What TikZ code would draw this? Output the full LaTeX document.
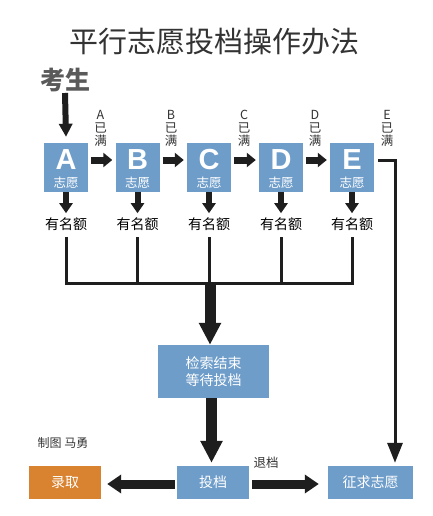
\documentclass[tikz,border=0pt]{standalone}
\usepackage{fontspec}
\setmainfont{Noto Sans CJK SC}
\newfontfamily\latinbold{Liberation Sans}
\usetikzlibrary{arrows.meta}
\definecolor{boxblue}{HTML}{6E9DCA}
\definecolor{boxorange}{HTML}{D9822F}
\definecolor{arrowdark}{HTML}{1E1E1E}
\definecolor{titlegray}{HTML}{333333}
\definecolor{kgray}{HTML}{5A5A5A}
\tikzset{
  vbox/.style={fill=boxblue, draw=none, minimum width=44pt, minimum height=49pt, inner sep=0pt},
  flowbox/.style={fill=boxblue, draw=none, inner sep=0pt, text=white, font=\fontsize{14}{17}\selectfont, align=center},
  bigletter/.style={text=white, inner sep=0pt, text height=21.5pt, text depth=0pt, font=\latinbold\bfseries\fontsize{29}{29}\selectfont},
  smallwhite/.style={text=white, inner sep=0pt, text height=11pt, text depth=1.5pt, font=\fontsize{12.5}{12.5}\selectfont},
  fulllabel/.style={inner sep=0pt, align=center, text=titlegray, font=\fontsize{12.5}{13}\selectfont},
  quota/.style={inner sep=0pt, text=black, font=\fontsize{14}{14}\selectfont},
  arrA/.style={draw=arrowdark, line width=6pt, -{Triangle[width=13pt,length=13pt]}},
  arrH/.style={draw=arrowdark, line width=7pt, -{Triangle[width=14pt,length=9pt]}},
  arrD/.style={draw=arrowdark, line width=6pt, -{Triangle[width=13pt,length=10pt]}},
  arrBig/.style={draw=arrowdark, line width=11pt, -{Triangle[width=21pt,length=22pt]}},
  arrBot/.style={draw=arrowdark, line width=9pt, -{Triangle[width=18pt,length=14pt]}},
  arrThin/.style={draw=arrowdark, line width=3pt, -{Triangle[width=15pt,length=20pt]}},
  busline/.style={draw=arrowdark, line width=3pt},
}
\begin{document}
\begin{tikzpicture}[x=1pt,y=-1pt]
\fill[white] (0,0) rectangle (432,516);
\useasboundingbox (0,0) rectangle (432,516);

\node[inner sep=0pt, text=titlegray, font=\fontsize{29}{29}\selectfont] (title) at (214,42) {平行志愿投档操作办法};
\node[inner sep=0pt, text=kgray, font=\bfseries\fontsize{25}{25}\selectfont] (ks) at (65,80) {考生};
\coordinate (ksarrow) at (65,93);
\coordinate (bus) at (0,283);

\foreach \n/\x/\lx in {A/66/100.5, B/137.5/171, C/209/244, D/281/315, E/352/387}{
  \node[vbox] (\n) at (\x,167.5) {};
  \node[bigletter] (\n l) at (\x,158.5) {\n};
  \node[smallwhite] (\n z) at (\x,183) {志愿};
  \node[fulllabel] (\n m) at (\lx,128) {\n\\已\\满};
  \node[quota] (\n q) at (\x,224) {有名额};
  \draw[arrD] (\n.south) -- ([yshift=-21pt]\n.south);
  \draw[busline] ([yshift=-13pt]\n q.center) -- (\n q.center |- bus);
}
\draw[busline, line cap=rect] (Aq.center |- bus) -- (Eq.center |- bus);

\draw[arrA] (ksarrow) -- ([yshift=6pt]A.north);
\foreach \a/\b in {A/B, B/C, C/D, D/E}{
  \draw[arrH] ([yshift=7.5pt]\a.east) ++(3pt,0) -- ([yshift=7.5pt,xshift=-3pt]\b.west);
}

\node[flowbox, minimum width=111pt, minimum height=53pt] (js) at (213.5,371.5) {检索结束\\等待投档};
\node[flowbox, minimum width=72pt, minimum height=33pt] (td) at (213,482.5) {投档};
\node[flowbox, fill=boxorange, minimum width=72pt, minimum height=33pt] (lq) at (65,482.5) {录取};
\node[flowbox, minimum width=85pt, minimum height=33pt] (zq) at (370.5,482.5) {征求志愿};

\coordinate (junc) at (210,283);
\draw[arrBig] (junc) -- (junc |- js.north);
\draw[arrBig] ([xshift=-2pt]js.south) -- ([xshift=-2pt,yshift=3pt]js.south |- td.north);

\draw[arrBot, shorten <=2pt, shorten >=6pt] ([yshift=-1.5pt]td.west) -- ([yshift=-1.5pt]lq.east);
\draw[arrBot, shorten <=3pt, shorten >=9pt] ([yshift=-1.5pt]td.east) -- ([yshift=-1.5pt]zq.west);
\node[inner sep=0pt, text=titlegray, font=\fontsize{12.5}{13}\selectfont] (tuidang) at (266,463) {退档};

\draw[arrThin, shorten <=4pt, shorten >=3pt] ([yshift=7.5pt]E.east) -| ([xshift=24.5pt]zq.north);

\node[inner sep=0pt, text=titlegray, font=\fontsize{12}{12}\selectfont] (credit) at (63,443) {制图\ 马勇};
\end{tikzpicture}
\end{document}
